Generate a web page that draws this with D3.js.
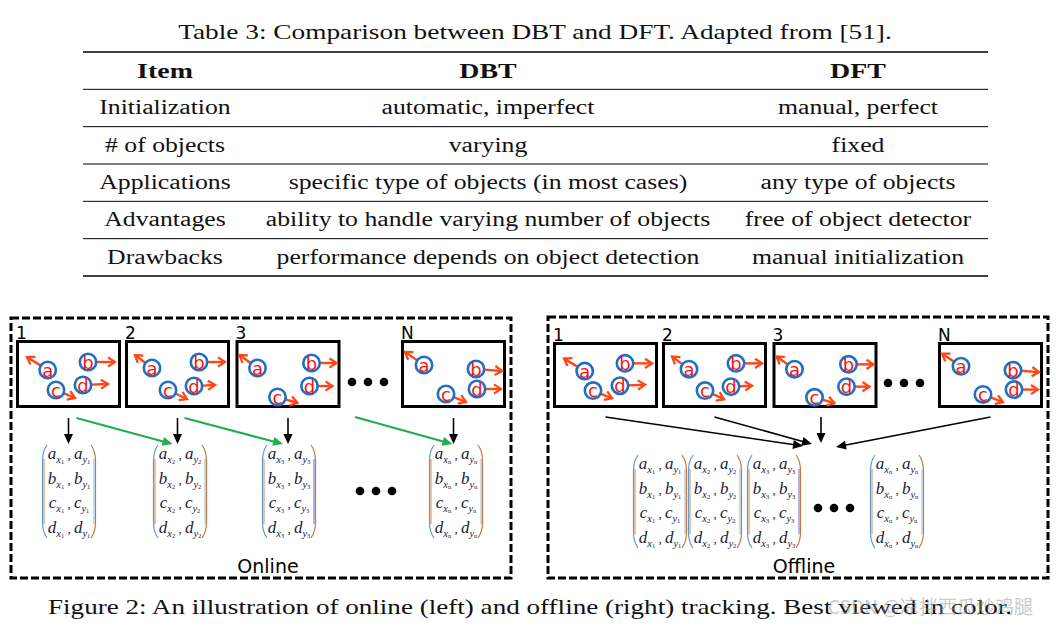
<!DOCTYPE html>
<html><head><meta charset="utf-8">
<script src="https://cdn.jsdelivr.net/npm/d3@7"></script>
<style>html,body{margin:0;padding:0;background:#fff;}svg{display:block;}</style>
</head><body>
<script>
// ---------------- DATA ----------------
const tableTitle = "Table 3: Comparison between DBT and DFT. Adapted from [51].";
const tableHeader = ["Item", "DBT", "DFT"];
const tableItems = ["Initialization", "# of objects", "Applications", "Advantages", "Drawbacks"];
const dbtValues = ["automatic, imperfect", "varying", "specific type of objects (in most cases)",
  "ability to handle varying number of objects", "performance depends on object detection"];
const dftValues = ["manual, perfect", "fixed", "any type of objects", "free of object detector", "manual initialization"];
const frameLabels = ["1", "2", "3", "N"];
const frameIndex = ["1", "2", "3", "n"];
const objectNames = ["a", "b", "c", "d"];
// object centres inside each frame (frame units, px from frame top-left)
const objectCenters = [
  [[31.7, 30], [72, 22], [40, 50], [67, 45]],
  [[27, 28], [74, 22], [43, 50], [69, 46]],
  [[22, 28], [76, 23], [42, 57], [74, 46]],
  [[23, 25], [75, 29], [45, 54], [76, 49]]
];
// motion arrow end points inside each frame
const motionEnds = [
  [[11, 17], [99, 22], [59, 58], [92, 44]],
  [[10, 15], [100, 22], [62, 59], [90, 45]],
  [[4, 15], [101, 23], [62, 63], [97, 46]],
  [[4, 12], [101, 31], [65, 62], [100, 49]]
];
const panelTitles = ["Online", "Offline"];
const captionText = "Figure 2: An illustration of online (left) and offline (right) tracking. Best viewed in color.";
const watermarkText = "CSDN @凉拌西瓜炒鸡腿";

// ---------------- SETUP ----------------
const W = 1056, H = 628;
const svg = d3.select("body").append("svg").attr("width", W).attr("height", H);
svg.append("rect").attr("width", W).attr("height", H).attr("fill", "#fff");
const SERIF = "'Liberation Serif', 'Times New Roman', serif";
const SANS = "'DejaVu Sans', Verdana, sans-serif";
const STRETCH = 1.255, STRETCH_BOLD = 1.36, STRETCH_TITLE = 1.3, STRETCH_CAP = 1.29;

function stretch(sel, k) {
  sel.each(function () {
    const w = this.getComputedTextLength();
    d3.select(this).attr("textLength", w * k).attr("lengthAdjust", "spacingAndGlyphs");
  });
}

const defs = svg.append("defs");
function marker(id, color, open) {
  const m = defs.append("marker").attr("id", id).attr("markerUnits", "userSpaceOnUse")
    .attr("viewBox", "-12 -7 14 14").attr("refX", 0).attr("refY", 0)
    .attr("markerWidth", 14).attr("markerHeight", 14).attr("orient", "auto");
  if (open) m.append("path").attr("d", "M-7,-4.6 L0,0 L-7,4.6").attr("fill", "none")
    .attr("stroke", color).attr("stroke-width", 2.3);
  else m.append("path").attr("d", "M-10,-4.5 L0,0 L-10,4.5 Z").attr("fill", color);
}
marker("mRed", "#ff4716", true);
marker("mBlack", "#000", false);
marker("mGreen", "#1fae4e", false);

// ---------------- TABLE ----------------
const colX = d3.scaleOrdinal().domain(tableHeader).range([165, 488, 858]);
const ruleY = d3.scaleLinear().domain([0, tableItems.length + 1]).range([52, 276]);
const tableX = [83, 988];

const title = svg.append("text").attr("x", 535).attr("y", 39).attr("text-anchor", "middle")
  .attr("font-family", SERIF).attr("font-size", 21).attr("fill", "#111").text(tableTitle);
stretch(title, STRETCH_TITLE);

svg.selectAll(".rule").data(d3.range(tableItems.length + 2)).join("line")
  .attr("x1", tableX[0]).attr("x2", tableX[1])
  .attr("y1", d => ruleY(d)).attr("y2", d => ruleY(d))
  .attr("stroke", "#000").attr("stroke-width", d => (d === 0 || d === tableItems.length + 1) ? 1.4 : 1);

const hdr = svg.selectAll(".hdr").data(tableHeader).join("text")
  .attr("x", d => colX(d)).attr("y", ruleY(0) + 26).attr("text-anchor", "middle")
  .attr("font-family", SERIF).attr("font-weight", "bold").attr("font-size", 20.5).attr("fill", "#111").text(d => d);
stretch(hdr, STRETCH_BOLD);

const rows = tableItems.map((d, i) => [d, dbtValues[i], dftValues[i]]);
rows.forEach((r, i) => {
  const t = svg.selectAll(".row" + i).data(r).join("text")
    .attr("x", (d, j) => colX(tableHeader[j])).attr("y", ruleY(i + 1) + 25).attr("text-anchor", "middle")
    .attr("font-family", SERIF).attr("font-size", 20.5).attr("fill", "#111").text(d => d);
  stretch(t, STRETCH);
});

// ---------------- DIAGRAM ----------------
const panels = [
  { x: 11, y: 318, w: 500, h: 260, frameTop: 22, frameH: 68, matTop: 127, matX: [31, 142, 251, 418],
    dotsTop: [341, 64], dotsBottom: [349, 173], titleX: 257, titleY: 255, mode: "online" },
  { x: 548, y: 317, w: 500, h: 261, frameTop: 25, frameH: 66, matTop: 138, matX: [85, 140, 199, 322],
    dotsTop: [340, 66], dotsBottom: [270, 191], titleX: 256, titleY: 256, mode: "offline" }
];
const frameX = [5, 114, 224.5, 390];
const frameW = 105;
const matW = 54, matH = 93;
const rowOff = [9, 34, 58, 83];

function shorten(x1, y1, x2, y2, s) {
  const dx = x2 - x1, dy = y2 - y1, L = Math.hypot(dx, dy);
  return [x2 - dx / L * s, y2 - dy / L * s];
}
function arrow(g, x1, y1, x2, y2, color, mk, sw) {
  const [ex, ey] = shorten(x1, y1, x2, y2, 5);
  g.append("line").attr("x1", x1).attr("y1", y1).attr("x2", ex).attr("y2", ey)
    .attr("stroke", color).attr("stroke-width", sw);
  g.append("path").attr("d", `M${ex},${ey}L${x2},${y2}`).attr("stroke", "none").attr("fill", "none")
    .attr("marker-end", `url(#${mk})`);
}

function drawFrame(g, fx, fy, fh, k) {
  g.append("rect").attr("x", fx + 1.5).attr("y", fy + 1.5).attr("width", frameW - 3).attr("height", fh - 3)
    .attr("fill", "#fff").attr("stroke", "#000").attr("stroke-width", 3);
  g.append("text").attr("x", fx).attr("y", fy - 1.5).attr("font-family", SANS).attr("font-size", 17)
    .attr("fill", "#000").text(frameLabels[k]);
  const sx = d3.scaleLinear().domain([0, frameW]).range([fx, fx + frameW]);
  const sy = d3.scaleLinear().domain([0, 68]).range([fy, fy + fh]);
  const r = 8.2;
  objectNames.forEach((n, i) => {
    const [cx, cy] = objectCenters[k][i];
    const [ex, ey] = motionEnds[k][i];
    const dx = ex - cx, dy = ey - cy, L = Math.hypot(dx, dy);
    g.append("line").attr("x1", sx(cx + dx / L * r)).attr("y1", sy(cy + dy / L * r))
      .attr("x2", sx(ex)).attr("y2", sy(ey)).attr("stroke", "#ff4716").attr("stroke-width", 2.4)
      .attr("marker-end", "url(#mRed)");
  });
  objectNames.forEach((n, i) => {
    const [cx, cy] = objectCenters[k][i];
    g.append("circle").attr("cx", sx(cx)).attr("cy", sy(cy)).attr("r", r)
      .attr("fill", "none").attr("stroke", "#1f6fc4").attr("stroke-width", 2.6);
    g.append("text").attr("x", sx(cx)).attr("y", sy(cy) + 6.5).attr("text-anchor", "middle")
      .attr("font-family", SANS).attr("font-size", 18).attr("fill", "#ff1010").text(n);
  });
}

function drawMatrix(g, x, y, k) {
  const w = matW, h = matH;
  const lp = `M${x + 5},${y} Q${x + 0.5},${y + 6} ${x + 0.5},${y + 16} L${x + 0.5},${y + h - 16} Q${x + 0.5},${y + h - 6} ${x + 5},${y + h}`;
  const rp = `M${x + w - 5},${y} Q${x + w - 0.5},${y + 6} ${x + w - 0.5},${y + 16} L${x + w - 0.5},${y + h - 16} Q${x + w - 0.5},${y + h - 6} ${x + w - 5},${y + h}`;
  g.append("path").attr("d", lp).attr("fill", "none").attr("stroke", "#5b9bd5").attr("stroke-width", 1.2);
  g.append("line").attr("x1", x + 2).attr("x2", x + 2).attr("y1", y + 14).attr("y2", y + h - 14)
    .attr("stroke", "#d8894a").attr("stroke-width", 1);
  g.append("path").attr("d", rp).attr("fill", "none").attr("stroke", "#c8783a").attr("stroke-width", 1.2);
  g.append("line").attr("x1", x + w - 2).attr("x2", x + w - 2).attr("y1", y + 14).attr("y2", y + h - 14)
    .attr("stroke", k === 2 ? "#6a5acd" : "#7fb0e0").attr("stroke-width", 0.9);
  objectNames.forEach((n, i) => {
    const t = g.append("text").attr("x", x + w / 2).attr("y", y + rowOff[i] + 5).attr("text-anchor", "middle")
      .attr("font-family", SERIF).attr("font-style", "italic").attr("font-size", 17).attr("fill", "#1c1c3a");
    t.append("tspan").text(n);
    t.append("tspan").attr("font-size", 10.5).attr("dy", 3.5).text("x");
    t.append("tspan").attr("font-size", 6.5).attr("dy", 1.5).attr("font-style", "normal").text(frameIndex[k]);
    t.append("tspan").attr("dy", -5).attr("font-style", "normal").attr("font-size", 13).text(" , ");
    t.append("tspan").text(n);
    t.append("tspan").attr("font-size", 10.5).attr("dy", 3.5).text("y");
    t.append("tspan").attr("font-size", 6.5).attr("dy", 1.5).attr("font-style", "normal").text(frameIndex[k]);
  });
}

function dots(g, x, y) {
  g.selectAll(null).data([0, 1, 2]).join("circle")
    .attr("cx", d => x + d * 16).attr("cy", y).attr("r", 4.3).attr("fill", "#000");
}

panels.forEach((p, pi) => {
  const g = svg.append("g").attr("transform", `translate(${p.x},${p.y})`);
  g.append("rect").attr("x", 0).attr("y", 0).attr("width", p.w).attr("height", p.h)
    .attr("fill", "none").attr("stroke", "#000").attr("stroke-width", 3).attr("stroke-dasharray", "8,3");
  frameLabels.forEach((f, k) => drawFrame(g, frameX[k], p.frameTop, p.frameH, k));
  dots(g, p.dotsTop[0], p.dotsTop[1]);
  frameIndex.forEach((f, k) => drawMatrix(g, p.matX[k], p.matTop, k));
  dots(g, p.dotsBottom[0], p.dotsBottom[1]);
  const fb = p.frameTop + p.frameH + 10;
  const cxs = frameX.map(fx => fx + frameW / 2);
  if (p.mode === "online") {
    cxs.forEach(cx => arrow(g, cx, fb, cx, p.matTop - 1, "#000", "mBlack", 1.6));
    arrow(g, cxs[0] + 8, fb, cxs[1] - 5, p.matTop - 1, "#1fae4e", "mGreen", 2);
    arrow(g, cxs[1] + 7, fb, cxs[2] - 5, p.matTop - 1, "#1fae4e", "mGreen", 2);
    arrow(g, p.dotsTop[0] + 3, fb - 1, cxs[3] - 1, p.matTop - 1, "#1fae4e", "mGreen", 2);
  } else {
    const targets = [[255, 129], [264, 127], [273, 126], [288, 130]];
    cxs.forEach((cx, k) => {
      const sx = k === 2 ? targets[2][0] : cx;
      arrow(g, sx, fb - 1, targets[k][0], targets[k][1], "#000", "mBlack", 1.6);
    });
  }
  g.append("text").attr("x", p.titleX).attr("y", p.titleY).attr("text-anchor", "middle")
    .attr("font-family", SANS).attr("font-size", 19).attr("fill", "#000").text(panelTitles[pi]);
});

// ---------------- CAPTION ----------------
const cap = svg.append("text").attr("x", 48).attr("y", 614).attr("font-family", SERIF)
  .attr("font-size", 21).attr("fill", "#111").text(captionText);
stretch(cap, STRETCH_CAP);
svg.append("text").attr("x", 828).attr("y", 614).attr("font-family", "'Noto Sans CJK SC', sans-serif")
  .attr("font-size", 19).attr("fill", "#9a9a9a").attr("fill-opacity", 0.55).text(watermarkText);
</script>
</body></html>
